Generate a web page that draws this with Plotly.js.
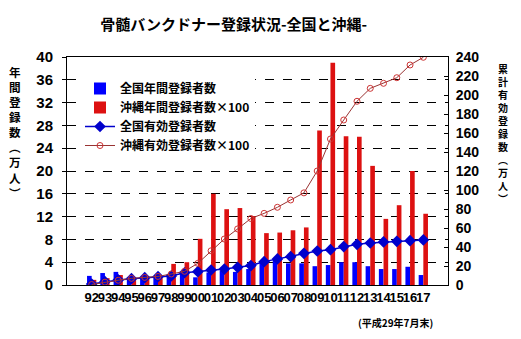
<!DOCTYPE html>
<html>
<head>
<meta charset="utf-8">
<script src="https://cdn.plot.ly/plotly-3.0.1.min.js"></script>
<style>html,body{margin:0;padding:0;background:#fff;}#chart{width:521px;height:339px;}</style>
</head>
<body>
<div id="chart"></div>
<script>
const years = ['92','93','94','95','96','97','98','99','00','01','02','03','04','05','06','07','08','09','10','11','12','13','14','15','16','17'];
const nationalAnnual = [1.6,2.1,2.3,1.3,1.3,1.45,1.9,2.2,1.35,2.2,2.5,2.3,2.8,4.1,4.4,3.8,3.8,3.3,3.5,4.0,4.0,3.3,2.8,2.8,3.2,1.75];
const okinawaAnnualX100 = [0.9,1.2,1.75,1.1,1.05,1.3,3.7,4.0,8.1,16.0,13.3,13.5,12.1,9.1,9.2,9.6,10.1,27.1,39.0,26.1,26.0,20.9,11.6,14.0,20.0,12.5];
const nationalCum = [1.0,3.5,5.3,6.7,7.7,8.8,9.5,12.9,14.0,15.8,16.8,18.6,20.5,24.6,27.4,29.8,33.3,35.8,37.2,40.4,42.8,44.2,45.3,46.0,46.7,47.4];
const okinawaCumX100 = [0.5,3,5,7,8,9,11.6,14.4,22.8,36,48.4,59,70,75.4,81.8,89.5,97,120,153.7,173.7,193.4,207,212.3,218.2,231.6,239.7];

const seriesNames = ['全国年間登録者数','沖縄年間登録者数×100','全国有効登録者数','沖縄有効登録者数×100'];
const titleText = '骨髄バンクドナー登録状況-全国と沖縄-';
const leftTitleChars = ['年','間','登','録','数','︵','万','人','︶'];
const rightTitleChars = ['累','計','有','効','登','録','数','︵','万','人','︶'];
const noteText = '(平成29年7月末)';

const FONT = '"Noto Sans CJK JP", "Liberation Sans", sans-serif';
const NUMFONT = '"Liberation Sans Narrow", "Liberation Sans", Arial, sans-serif';

const traces = [
  {type:'bar', x:years, y:nationalAnnual, name:seriesNames[0], marker:{color:'#0000FF'}, yaxis:'y'},
  {type:'bar', x:years, y:okinawaAnnualX100, name:seriesNames[1], marker:{color:'#DD1111'}, yaxis:'y'},
  {type:'scatter', mode:'lines+markers', x:years, y:nationalCum, name:seriesNames[2], yaxis:'y2',
   line:{color:'#0000CC', width:1.5}, marker:{symbol:'diamond', size:9, color:'#0000CC'}},
  {type:'scatter', mode:'lines+markers', x:years, y:okinawaCumX100, name:seriesNames[3], yaxis:'y2',
   line:{color:'#993333', width:1}, marker:{symbol:'circle-open', size:6, color:'#CC3333', line:{width:1}}}
];

// plot area geometry in pixels
const W = 521, H = 339, L = 67, R = 448, T = 57, B = 285;
const annotations = [
  {text:'<b>'+leftTitleChars.join('<br>')+'</b>', xref:'paper', yref:'paper', x:(15 - L)/(R - L), y:(B - 132)/(B - T),
    showarrow:false, xanchor:'center', yanchor:'middle', font:{family:FONT, size:11.6, color:'#000'}},
  {text:'<b>'+rightTitleChars.join('<br>')+'</b>', xref:'paper', yref:'paper', x:(503 - L)/(R - L), y:(B - 133)/(B - T),
    showarrow:false, xanchor:'center', yanchor:'middle', font:{family:FONT, size:10, color:'#000'}},
  {text:'<b>'+noteText+'</b>', xref:'paper', yref:'paper', x:(395 - L)/(R - L), y:(B - 322)/(B - T),
    showarrow:false, xanchor:'center', yanchor:'middle', font:{family:FONT, size:10, color:'#000'}}
];

const layout = {
  width:W, height:H,
  margin:{l:L, r:W - R, t:T, b:H - B, pad:0},
  paper_bgcolor:'#fff', plot_bgcolor:'#fff',
  title:{text:'<b>'+titleText+'</b>', x:228/W, xanchor:'center', xref:'paper', y:1 - 25/H, yanchor:'middle',
    font:{family:FONT, size:15, color:'#000'}},
  barmode:'group', bargap:0.3, bargroupgap:0,
  showlegend:true,
  legend:{x:(80 - L)/(R - L), y:(B - 74)/(B - T), xanchor:'left', yanchor:'top', bgcolor:'#fff',
    font:{family:FONT, size:12, color:'#000', weight:'bold'}, tracegroupgap:0, itemwidth:30, traceorder:'normal'},
  xaxis:{type:'category', tickmode:'array', tickvals:years, ticktext:years,
    showline:true, linecolor:'#000', linewidth:1, mirror:true, ticks:'', showgrid:false,
    tickfont:{family:NUMFONT, size:13, color:'#000', weight:'bold'}, tickangle:0, automargin:false},
  yaxis:{range:[0,40], dtick:4, showline:true, linecolor:'#000', linewidth:1, ticks:'outside', ticklen:4, tickcolor:'#000',
    showgrid:true, gridcolor:'#000', griddash:'dash', gridwidth:1, zeroline:false,
    tickfont:{family:NUMFONT, size:15, color:'#000', weight:'bold'}, ticklabelstandoff:6, automargin:false},
  yaxis2:{range:[0,240], dtick:20, overlaying:'y', side:'right', showline:true, linecolor:'#000', linewidth:1,
    ticks:'inside', ticklen:4, tickcolor:'#000', showgrid:false, zeroline:false,
    tickfont:{family:NUMFONT, size:14, color:'#000', weight:'bold'}, ticklabelstandoff:4, automargin:false},
  annotations:annotations
};

Plotly.newPlot('chart', traces, layout, {displayModeBar:false, staticPlot:true});
</script>
</body>
</html>
